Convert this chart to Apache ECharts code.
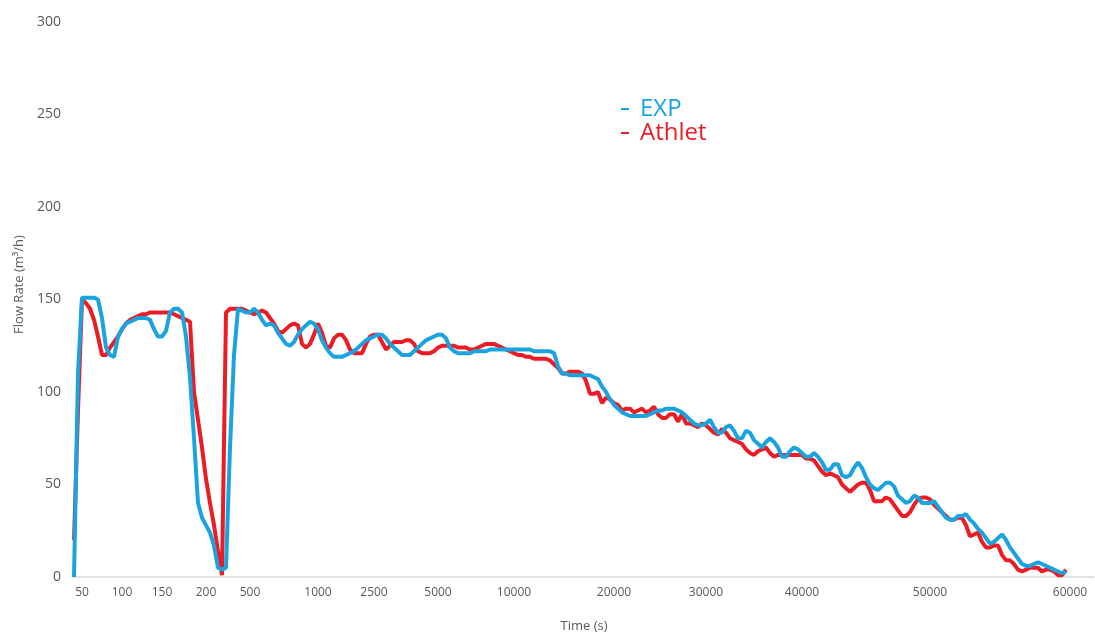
<!DOCTYPE html>
<html>
<head>
<meta charset="utf-8">
<title>Flow Rate</title>
<script src="https://cdn.jsdelivr.net/npm/echarts@6/dist/echarts.min.js"></script>
<style>
  html, body { margin: 0; padding: 0; background: #ffffff; }
  #chart { width: 1095px; height: 635px; }
</style>
</head>
<body>
<div id="chart"></div>
<script>
// Logged sample times (s); the run log is sampled more densely early on.
const TIME = [
  40, 45, 50,
  55, 60, 65, 70, 75, 80, 85, 90, 95, 100,
  105, 110, 115, 120, 125, 130, 135, 140, 145, 150,
  155, 159, 164, 168, 173, 177, 182, 186, 191, 195, 200,
  227, 255, 282, 309, 336, 364, 391, 418, 445, 473, 500,
  529, 559, 588, 618, 647, 676, 706, 735, 765, 794, 824, 853, 882, 912, 941, 971, 1000,
  1107, 1214, 1321, 1429, 1536, 1643, 1750, 1857, 1964, 2071, 2179, 2286, 2393, 2500,
  2656, 2813, 2969, 3125, 3281, 3438, 3594, 3750, 3906, 4063, 4219, 4375, 4531, 4688, 4844, 5000,
  5263, 5526, 5789, 6053, 6316, 6579, 6842, 7105, 7368, 7632, 7895, 8158, 8421, 8684, 8947, 9211, 9474, 9737, 10000,
  10400, 10800, 11200, 11600, 12000, 12400, 12800, 13200, 13600, 14000, 14400, 14800, 15200, 15600, 16000, 16400, 16800, 17200, 17600, 18000, 18400, 18800, 19200, 19600, 20000,
  20435, 20870, 21304, 21739, 22174, 22609, 23043, 23478, 23913, 24348, 24783, 25217, 25652, 26087, 26522, 26957, 27391, 27826, 28261, 28696, 29130, 29565, 30000,
  30417, 30833, 31250, 31667, 32083, 32500, 32917, 33333, 33750, 34167, 34583, 35000, 35417, 35833, 36250, 36667, 37083, 37500, 37917, 38333, 38750, 39167, 39583, 40000,
  40313, 40625, 40938, 41250, 41563, 41875, 42188, 42500, 42813, 43125, 43438, 43750, 44063, 44375, 44688, 45000, 45313, 45625, 45938, 46250, 46563, 46875, 47188, 47500, 47813, 48125, 48438, 48750, 49063, 49375, 49688, 50000,
  50286, 50571, 50857, 51143, 51429, 51714, 52000, 52286, 52571, 52857, 53143, 53429, 53714, 54000, 54286, 54571, 54857, 55143, 55429, 55714, 56000, 56286, 56571, 56857, 57143, 57429, 57714, 58000, 58286, 58571, 58857, 59143, 59429, 59714, 60000,
  60286, 60571, 60857, 61143, 61429, 61714
];

// Times that get a label on the x axis
const TIME_TICKS = [50, 100, 150, 200, 500, 1000, 2500, 5000, 10000, 20000, 30000, 40000, 50000, 60000];

// Flow rate (m³/h), experiment
const EXP = [
  0, 110, 151, 151, 151, 151, 150, 140, 124, 120,
  119, 130, 134, 137, 138, 139, 140, 140, 140, 139,
  134, 130, 130, 133, 143, 145, 145, 143, 130, 108,
  75, 40, 32, 28, 24, 17, 5, 4, 5, 70,
  120, 145, 144, 143, 143, 145, 143, 139, 136, 137,
  136, 132, 129, 126, 125, 127, 131, 134, 136, 138,
  137, 134, 128, 124, 121, 119, 119, 119, 120, 121,
  122, 124, 126, 128, 129, 130, 131, 131, 129, 126,
  124, 122, 120, 120, 120, 122, 124, 126, 128, 129,
  130, 131, 131, 129, 124, 122, 121, 121, 121, 121,
  122, 122, 122, 122, 123, 123, 123, 123, 123, 123,
  123, 123, 123, 123, 123, 122, 122, 122, 122, 122,
  121, 114, 110, 110, 109, 109, 109, 109, 109, 109,
  108, 107, 103, 100, 96, 93, 91, 89, 88, 87,
  87, 87, 87, 87, 88, 89, 90, 90, 91, 91,
  91, 90, 89, 87, 85, 83, 82, 82, 83, 85,
  81, 78, 78, 81, 82, 79, 75, 75, 79, 78,
  74, 72, 70, 73, 75, 73, 70, 65, 65, 68,
  70, 69, 67, 65, 65, 67, 65, 62, 58, 58,
  61, 61, 55, 54, 55, 59, 62, 59, 54, 50,
  48, 47, 49, 51, 51, 49, 44, 42, 40, 41,
  44, 43, 40, 40, 40, 41, 38, 35, 32, 31,
  31, 33, 33, 34, 31, 29, 26, 24, 21, 18,
  19, 21, 23, 20, 16, 13, 10, 7, 6, 6,
  7, 8, 7, 6, 5, 4, 3, 2, 3
];

// Flow rate (m³/h), Athlet simulation
const ATHLET = [
  20, 90, 150, 148, 145, 139, 130, 120, 120, 124,
  127, 130, 134, 137, 139, 140, 141, 142, 142, 143,
  143, 143, 143, 143, 143, 142, 141, 140, 139, 138,
  100, 85, 70, 53, 40, 28, 14, 1, 143, 145,
  145, 145, 145, 144, 143, 142, 143, 144, 143, 140,
  137, 133, 132, 134, 136, 137, 136, 126, 124, 126,
  131, 137, 132, 125, 124, 129, 131, 131, 128, 123,
  121, 121, 121, 126, 130, 131, 131, 127, 123, 125,
  127, 127, 127, 128, 128, 126, 122, 121, 121, 121,
  122, 124, 125, 125, 125, 125, 124, 124, 124, 123,
  123, 124, 125, 126, 126, 126, 125, 124, 123, 122,
  121, 120, 120, 119, 119, 118, 118, 118, 118, 117,
  115, 113, 110, 110, 111, 111, 111, 110, 106, 99,
  99, 100, 94, 97, 96, 94, 93, 90, 91, 91,
  89, 90, 91, 89, 90, 92, 88, 86, 86, 88,
  88, 84, 88, 83, 83, 82, 81, 83, 82, 80,
  78, 77, 80, 78, 75, 74, 73, 72, 69, 67,
  66, 68, 69, 70, 67, 65, 66, 66, 66, 66,
  66, 66, 66, 64, 64, 63, 60, 57, 55, 56,
  55, 54, 50, 48, 46, 48, 50, 51, 51, 47,
  41, 41, 41, 43, 42, 39, 36, 33, 33, 35,
  39, 42, 43, 43, 42, 39, 37, 35, 33, 31,
  31, 32, 32, 28, 22, 23, 24, 19, 16, 16,
  17, 17, 12, 9, 9, 7, 4, 3, 4, 5,
  5, 5, 3, 4, 4, 3, 1, 1, 4
];

const BLUE = '#1ba3e0';
const RED = '#ec1c24';
const FONT = '"Open Sans", "Noto Sans", sans-serif';
const tickSet = new Set(TIME_TICKS.map(String));

const chart = echarts.init(document.getElementById('chart'));
chart.setOption({
  animation: false,
  backgroundColor: '#ffffff',
  grid: { left: 74, right: 1, top: 22, bottom: 58, containLabel: false, outerBoundsMode: 'none' },
  legend: {
    orient: 'vertical',
    left: 616,
    top: 92,
    data: ['EXP', 'Athlet'],
    icon: 'rect',
    itemWidth: 8,
    itemHeight: 2,
    itemGap: 0,
    textStyle: { color: 'inherit', fontFamily: FONT, fontSize: 24, lineHeight: 24, padding: [0, 0, 0, 6] }
  },
  xAxis: {
    type: 'category',
    data: TIME.map(String),
    boundaryGap: false,
    name: 'Time (s)',
    nameLocation: 'middle',
    nameGap: 43,
    nameTextStyle: { color: '#595959', fontFamily: FONT, fontSize: 13 },
    axisLine: { lineStyle: { color: '#d9d9d9', width: 1.5 } },
    axisTick: { show: false },
    axisLabel: {
      interval: (idx, value) => tickSet.has(String(value)),
      color: '#595959',
      fontFamily: FONT,
      fontSize: 12,
      margin: 10
    },
    splitLine: { show: false }
  },
  yAxis: {
    type: 'value',
    min: 0,
    max: 300,
    interval: 50,
    name: 'Flow Rate (m³/h)',
    nameLocation: 'middle',
    nameGap: 48,
    nameTextStyle: { color: '#595959', fontFamily: FONT, fontSize: 13, padding: [0, 0, 0, 30] },
    axisLine: { show: false },
    axisTick: { show: false },
    axisLabel: { color: '#595959', fontFamily: FONT, fontSize: 14, margin: 13 },
    splitLine: { show: false }
  },
  series: [
    {
      name: 'Athlet',
      type: 'line',
      data: ATHLET,
      showSymbol: false,
      color: RED,
      lineStyle: { width: 4, color: RED },
      z: 2
    },
    {
      name: 'EXP',
      type: 'line',
      data: EXP,
      showSymbol: false,
      color: BLUE,
      lineStyle: { width: 4, color: BLUE },
      z: 3
    }
  ]
});
</script>
</body>
</html>
